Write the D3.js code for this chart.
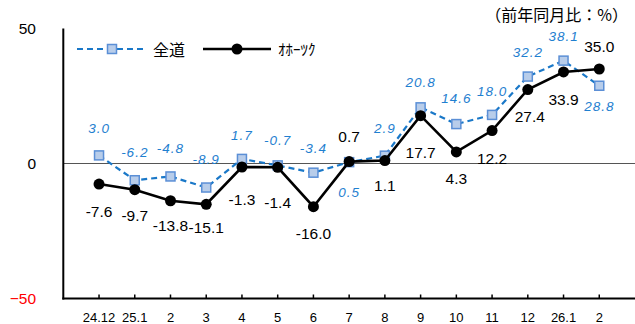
<!DOCTYPE html>
<html><head><meta charset="utf-8">
<script src="https://cdn.jsdelivr.net/npm/d3@7"></script>
<style>
body{margin:0;background:#fff;}
svg{display:block;}
</style></head>
<body>
<script>
const categories = ["24.12","25.1","2","3","4","5","6","7","8","9","10","11","12","26.1","2"];
const zendo = [3.0,-6.2,-4.8,-8.9,1.7,-0.7,-3.4,0.5,2.9,20.8,14.6,18.0,32.2,38.1,28.8];
const okhotsk = [-7.6,-9.7,-13.8,-15.1,-1.3,-1.4,-16.0,0.7,1.1,17.7,4.3,12.2,27.4,33.9,35.0];
const seriesNames = ["全道","ｵﾎｰﾂｸ"];
const yTicks = [50,0,-50];
const unitLabel = "（前年同月比：%）";
// label offsets (dx, dy) relative to points
const zendoOff = [[0,-27],[0,-28],[0,-28],[0,-28],[0,-24],[0,-25],[0,-25],[0,30],[0,-28],[0,-25],[0,-26],[0,-24],[0,-24],[0,-24],[0,20]];
const okhOff = [[0,27],[0,26],[0,25],[0,23],[0,32],[0,35],[0,27],[0,-25],[0,25],[0,37],[0,27],[0,28],[2,27],[0,27],[0,-23]];

const W=635,H=324;
const svg=d3.select("body").append("svg").attr("width",W).attr("height",H);
const x=d3.scalePoint().domain(d3.range(categories.length)).range([63.3,635]).padding(1);
const y=d3.scaleLinear().domain([-50,50]).range([298.5,28.5]);

const numFont='"Liberation Sans Narrow","Arial Narrow","Liberation Sans",sans-serif';

// zero line
svg.append("line").attr("x1",x.range()[0]).attr("x2",635).attr("y1",y(0)).attr("y2",y(0))
  .attr("stroke","#555").attr("stroke-width",1);

// y axis
svg.append("line").attr("x1",63.3).attr("x2",63.3).attr("y1",y(50)).attr("y2",y(-50)+1)
  .attr("stroke","#000").attr("stroke-width",2);
svg.selectAll(".ylab").data(yTicks).join("text")
  .attr("x",36).attr("y",d=>y(d)).attr("dy","0.36em").attr("text-anchor","end")
  .attr("font-family","Liberation Sans, Arial, sans-serif").attr("font-size",15.5)
  .attr("fill",d=>d<0?"#ff0000":"#000")
  .text(d=>d<0?"−"+Math.abs(d):d);

// x axis
const xa=svg.append("g").attr("transform",`translate(0,${y(-50)})`);
xa.append("line").attr("x1",62.3).attr("x2",635).attr("stroke","#000").attr("stroke-width",2.2);
xa.selectAll(".tk").data(d3.range(categories.length)).join("line")
  .attr("x1",d=>x(d)).attr("x2",d=>x(d)).attr("y1",0).attr("y2",-4).attr("stroke","#000").attr("stroke-width",1.5);
xa.selectAll(".xl").data(categories).join("text")
  .attr("x",(d,i)=>x(i)).attr("y",23).attr("text-anchor","middle")
  .attr("font-family",numFont).attr("font-size",13).text(d=>d);

// zendo line
const line=d3.line().x((d,i)=>x(i)).y(d=>y(d));
svg.append("path").datum(zendo).attr("d",line).attr("fill","none")
  .attr("stroke","#1a78c8").attr("stroke-width",2.2).attr("stroke-dasharray","6,4");
svg.selectAll(".sq").data(zendo).join("rect")
  .attr("x",(d,i)=>x(i)-4.5).attr("y",d=>y(d)-4.5).attr("width",9).attr("height",9)
  .attr("fill","#b8cdea").attr("stroke","#5b8fd6").attr("stroke-width",1.5);

// okhotsk line
svg.append("path").datum(okhotsk).attr("d",line).attr("fill","none")
  .attr("stroke","#000").attr("stroke-width",2.6);
svg.selectAll(".ci").data(okhotsk).join("circle")
  .attr("cx",(d,i)=>x(i)).attr("cy",d=>y(d)).attr("r",5.5).attr("fill","#000");

// labels
svg.selectAll(".zl").data(zendo).join("text")
  .attr("x",(d,i)=>x(i)+zendoOff[i][0]).attr("y",(d,i)=>y(d)+zendoOff[i][1])
  .attr("dy","0.36em").attr("text-anchor","middle")
  .attr("font-family",numFont).attr("font-style","italic").attr("font-size",13.5)
  .attr("letter-spacing",1).attr("fill","#1f80d0")
  .text(d=>d.toFixed(1));
svg.selectAll(".ol").data(okhotsk).join("text")
  .attr("x",(d,i)=>x(i)+okhOff[i][0]).attr("y",(d,i)=>y(d)+okhOff[i][1])
  .attr("dy","0.36em").attr("text-anchor","middle")
  .attr("font-family",numFont).attr("font-size",15.5).attr("fill","#000")
  .text(d=>d.toFixed(1));

// legend
const lg=svg.append("g");
lg.append("line").attr("x1",77).attr("x2",146).attr("y1",49).attr("y2",49)
  .attr("stroke","#1a78c8").attr("stroke-width",2.2).attr("stroke-dasharray","6,4");
lg.append("rect").attr("x",112-4.5).attr("y",49-4.5).attr("width",9).attr("height",9)
  .attr("fill","#b8cdea").attr("stroke","#5b8fd6").attr("stroke-width",1.5);
lg.append("text").attr("x",153).attr("y",50).attr("dy","0.36em")
  .attr("font-family","Noto Sans CJK JP, sans-serif").attr("font-size",16).text(seriesNames[0]);
lg.append("line").attr("x1",203).attr("x2",271).attr("y1",49).attr("y2",49)
  .attr("stroke","#000").attr("stroke-width",2.6);
lg.append("circle").attr("cx",237).attr("cy",49).attr("r",5.5).attr("fill","#000");
lg.append("text").attr("x",278).attr("y",50).attr("dy","0.36em")
  .attr("font-family","Noto Sans CJK JP, sans-serif").attr("font-size",15).text(seriesNames[1]);

// unit
svg.append("text").attr("x",628).attr("y",15).attr("dy","0.36em").attr("text-anchor","end")
  .attr("font-family","Noto Sans CJK JP, sans-serif").attr("font-size",16).text(unitLabel);
</script>
</body></html>
